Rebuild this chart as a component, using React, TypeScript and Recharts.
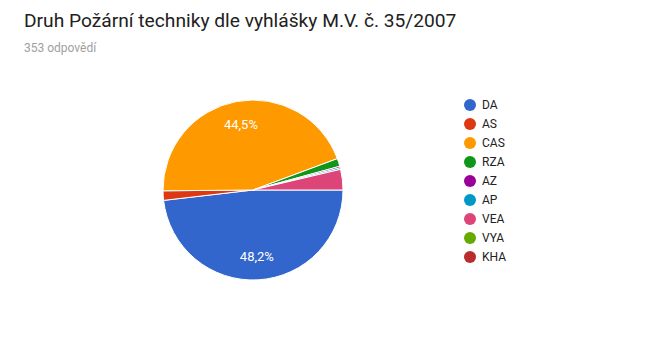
import { Legend, Pie, PieChart, Cell } from 'recharts'

const TOTAL = 353
const categories = ['DA', 'AS', 'CAS', 'RZA', 'AZ', 'AP', 'VEA', 'VYA', 'KHA']
const counts = [170, 6, 157, 5, 1, 1, 13, 0, 0]
const COLORS = ['#3366cc', '#dc3912', '#ff9900', '#109618', '#990099', '#0099c6', '#dd4477', '#66aa00', '#b82e2e']

const data = categories.map((name, i) => ({ name, value: counts[i] }))

const RADIAN = Math.PI / 180
const FONT = 'Roboto, Arial, sans-serif'

const renderLabel = ({ cx, cy, midAngle, outerRadius, value }: any) => {
  const pct = value / TOTAL
  if (pct < 0.05) return null
  const r = outerRadius * 0.74
  const x = cx + r * Math.cos(-midAngle * RADIAN)
  const y = cy + r * Math.sin(-midAngle * RADIAN)
  return (
    <text x={x} y={y} fill="#fff" textAnchor="middle" dominantBaseline="central" fontSize={13} fontFamily={FONT}>
      {(pct * 100).toFixed(1).replace('.', ',') + '%'}
    </text>
  )
}

const renderLegend = () => (
  <div style={{ fontFamily: FONT, fontSize: 12, color: '#222' }}>
    {categories.map((c, i) => (
      <div key={c} style={{ display: 'flex', alignItems: 'center', height: 19.1 }}>
        <span
          style={{
            display: 'inline-block',
            width: 12,
            height: 12,
            borderRadius: 6,
            background: COLORS[i],
            marginRight: 6,
          }}
        />
        <span>{c}</span>
      </div>
    ))}
  </div>
)

export default function App() {
  return (
    <div style={{ position: 'absolute', left: 0, top: 0, width: 667, height: 361, background: '#fff' }}>
      <div
        style={{
          position: 'absolute',
          left: 24,
          top: 9,
          fontFamily: FONT,
          fontSize: 19.2,
          color: '#212121',
          whiteSpace: 'nowrap',
        }}
      >
        Druh Požární techniky dle vyhlášky M.V. č. 35/2007
      </div>
      <div
        style={{
          position: 'absolute',
          left: 24,
          top: 41,
          fontFamily: FONT,
          fontSize: 12,
          color: '#a0a0a0',
          whiteSpace: 'nowrap',
        }}
      >
        353 odpovědí
      </div>
      <PieChart width={667} height={361}>
        <Pie
          data={data}
          dataKey="value"
          nameKey="name"
          cx={248}
          cy={185}
          outerRadius={90}
          startAngle={0}
          endAngle={-360}
          stroke="#fff"
          strokeWidth={1}
          label={renderLabel}
          labelLine={false}
          isAnimationActive={false}
        >
          {data.map((d, i) => (
            <Cell key={d.name} fill={COLORS[i]} />
          ))}
        </Pie>
        <Legend
          layout="vertical"
          content={renderLegend}
          wrapperStyle={{ position: 'absolute', left: 464, top: 95, width: 100 }}
        />
      </PieChart>
    </div>
  )
}
